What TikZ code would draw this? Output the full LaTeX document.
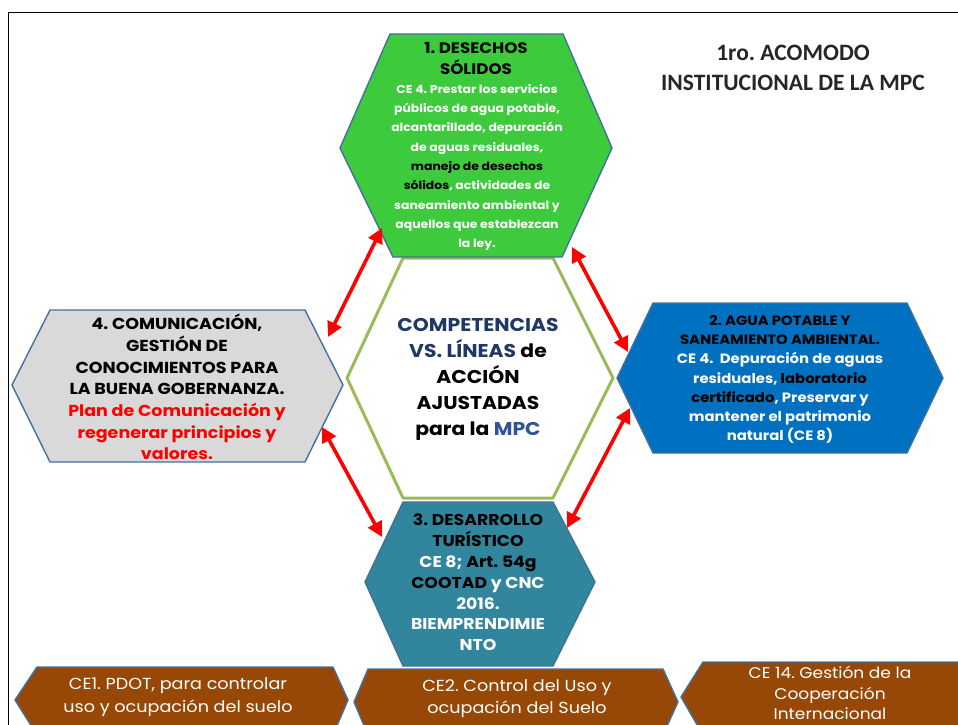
\documentclass[tikz,border=0pt]{standalone}
\usepackage{fontspec}
\usetikzlibrary{arrows.meta}
\setmainfont{Poppins}
\newfontfamily\hexf{Poppins}[FakeStretch=1.1]
\newfontfamily\titlef{Carlito}
\frenchspacing
\definecolor{hexborder}{HTML}{41719C}
\definecolor{gfill}{HTML}{3DCB3D}
\definecolor{olive}{HTML}{9BBB59}
\definecolor{grayfill}{HTML}{D9D9D9}
\definecolor{bluefill}{HTML}{0070C0}
\definecolor{tealfill}{HTML}{31859C}
\definecolor{brownfill}{HTML}{974806}
\definecolor{navy}{HTML}{1F3864}
\definecolor{mpcblue}{HTML}{2F5597}
\definecolor{titlegray}{HTML}{262626}
\tikzset{
  hexshape/.style={draw=hexborder, line width=1.4pt, line join=round},
  centerhex/.style={draw=olive, line width=3pt, line join=round},
  hextext/.style={align=center, inner sep=0pt, font=\hexf\bfseries},
  redarrow/.style={draw=red, line width=3.6pt, {Triangle[length=15pt,width=15pt]}-{Triangle[length=15pt,width=15pt]}},
}
\begin{document}
\begin{tikzpicture}[x=1pt,y=-1pt]
\useasboundingbox (0,0) rectangle (958,725);
\clip (0,0) rectangle (958,725);
% frame
\draw[black, line width=0.9pt] (8,740) -- (8,12) -- (970,12);
% central hexagon outline
\draw[centerhex] (403,258) -- (553,258) -- (613,378) -- (553,498) -- (403,498) -- (347,378) -- cycle;
% green hexagon
\draw[hexshape, fill=gfill] (390,34) -- (563,34) -- (612,148) -- (562,257) -- (393,257) -- (340,148) -- cycle;
% gray hexagon
\draw[hexshape, fill=grayfill] (50,310) -- (305,310) -- (343,385) -- (305,462) -- (50,462) -- (12,385) -- cycle;
% blue hexagon
\draw[hexshape, fill=bluefill] (653,303) -- (907,303) -- (943,378) -- (907,453) -- (653,453) -- (617,378) -- cycle;
% teal hexagon
\draw[hexshape, fill=tealfill] (403,502) -- (553,502) -- (595,582) -- (553,666) -- (403,666) -- (365,582) -- cycle;
% brown boxes
\draw[hexshape, fill=brownfill] (37,667) -- (333,667) -- (348,700) -- (333,735) -- (37,735) -- (15,700) -- cycle;
\draw[hexshape, fill=brownfill] (368,669) -- (663,669) -- (678,702) -- (663,735) -- (368,735) -- (354,702) -- cycle;
\draw[hexshape, fill=brownfill] (703,662) -- (975,662) -- (990,697) -- (975,735) -- (703,735) -- (681,697) -- cycle;

% title
\node[align=center, inner sep=0pt, font=\titlef\bfseries\fontsize{23.5}{30}\selectfont, text=titlegray] (title) at (793,68) {1ro. ACOMODO\\INSTITUCIONAL DE LA MPC};

% green text
\node[hextext, font=\hexf\bfseries\fontsize{15.2}{21}\selectfont] (ghead) at (476,58.5) {1. DESECHOS\\SÓLIDOS};
\node[hextext, text=white, font=\hexf\bfseries\fontsize{11.3}{19.3}\selectfont] (gbody) at (477,167.5) {CE 4. Prestar los servicios\\públicos de agua potable,\\alcantarillado, depuración\\de aguas residuales,\\\textcolor{black}{manejo de desechos}\\\textcolor{black}{sólidos}, actividades de\\saneamiento ambiental y\\aquellos que establezcan\\la ley.};

% gray text
\node[hextext, font=\hexf\bfseries\fontsize{15.9}{21.7}\selectfont] (gtext) at (177,387) {4. COMUNICACIÓN,\\GESTIÓN DE\\CONOCIMIENTOS PARA\\LA BUENA GOBERNANZA.\\\textcolor{red}{Plan de Comunicación y}\\\textcolor{red}{regenerar principios y}\\\textcolor{red}{valores.}};

% blue text
\node[hextext, text=white, font=\hexf\bfseries\fontsize{13.5}{19.2}\selectfont] (btext) at (780,379.5) {\textcolor{black}{2. AGUA POTABLE Y}\\\textcolor{black}{SANEAMIENTO AMBIENTAL.}\\CE 4.\ \ Depuración de aguas\\residuales, \textcolor{black}{laboratorio}\\\textcolor{black}{certificado}, Preservar y\\mantener el patrimonio\\natural (CE 8)};

% teal text
\node[hextext, text=white, font=\hexf\bfseries\fontsize{15.7}{20.8}\selectfont] (ttext) at (478,582.5) {\textcolor{black}{3. DESARROLLO}\\\textcolor{black}{TURÍSTICO}\\CE 8; \textcolor{black}{Art. 54g}\\\textcolor{black}{COOTAD} y CNC\\2016.\\BIEMPRENDIMIE\\NTO};

% center text
\node[hextext, font=\hexf\bfseries\fontsize{18.5}{26}\selectfont] (ctext) at (478,379) {\textcolor{navy}{COMPETENCIAS}\\\textcolor{navy}{VS. LÍNEAS} de\\ACCIÓN\\AJUSTADAS\\para la \textcolor{mpcblue}{MPC}};

% brown texts
\node[hextext, text=white, font=\hexf\fontsize{16}{23}\selectfont] (ce1) at (178,697.5) {CE1. PDOT, para controlar\\uso y ocupación del suelo};
\node[hextext, text=white, font=\hexf\fontsize{16}{22}\selectfont] (ce2) at (517,699) {CE2. Control del Uso y\\ocupación del Suelo};
\node[hextext, text=white, font=\hexf\fontsize{15.5}{20.5}\selectfont] (ce14) at (830,693) {CE 14. Gestión de la\\Cooperación\\Internacional};

% arrows
\coordinate (a1s) at (382,228); \coordinate (a1e) at (328,337);
\coordinate (a2s) at (572,247); \coordinate (a2e) at (628,352);
\coordinate (a3s) at (322,427); \coordinate (a3e) at (382,537);
\coordinate (a4s) at (630,408); \coordinate (a4e) at (567,528);
\draw[redarrow] (a1s) -- (a1e);
\draw[redarrow] (a2s) -- (a2e);
\draw[redarrow] (a3s) -- (a3e);
\draw[redarrow] (a4s) -- (a4e);
\end{tikzpicture}
\end{document}
